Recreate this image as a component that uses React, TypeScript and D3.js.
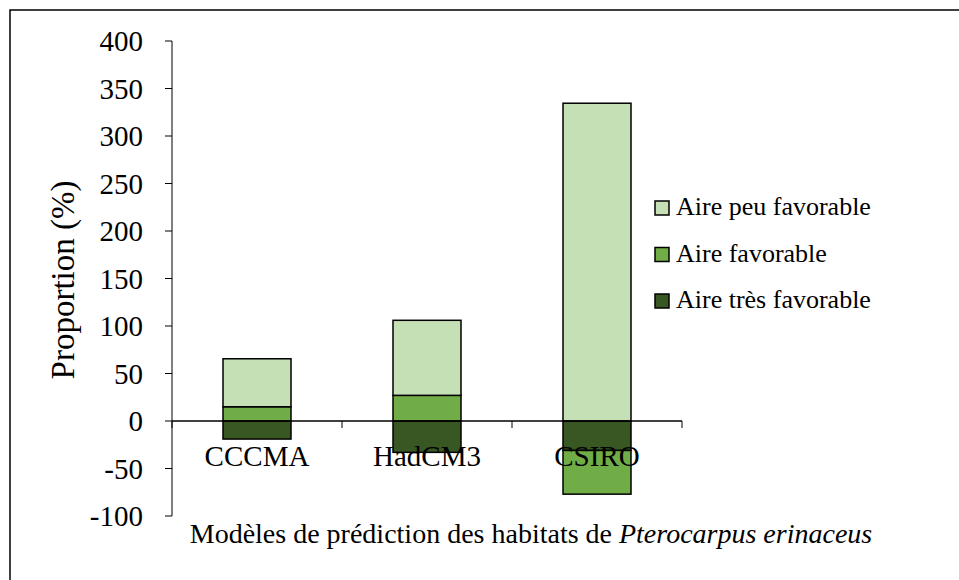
import React from "react";
import * as d3 from "d3";

const categories = ["CCCMA", "HadCM3", "CSIRO"];
const tresFavorable = [-19, -33, -31];
const favorable = [15, 27, -46];
const peuFavorable = [50.5, 79, 334.5];
const yTicks = [-100, -50, 0, 50, 100, 150, 200, 250, 300, 350, 400];

const seriesKeys = ["tres", "fav", "peu"];
const seriesLabels: Record<string, string> = {
  peu: "Aire peu favorable",
  fav: "Aire favorable",
  tres: "Aire très favorable",
};
const seriesColors: Record<string, string> = {
  peu: "#C5E0B4",
  fav: "#70AD47",
  tres: "#385723",
};
const legendOrder = ["peu", "fav", "tres"];

const FONT = "'Liberation Serif', 'DejaVu Serif', serif";

export default function App() {
  const W = 959;
  const H = 580;
  const x0 = 172;
  const x1 = 682;
  const yTop = 41;
  const yBot = 516;

  const rows = categories.map((c, i) => ({
    cat: c,
    tres: tresFavorable[i],
    fav: favorable[i],
    peu: peuFavorable[i],
  }));

  const x = d3
    .scaleBand<string>()
    .domain(categories)
    .range([x0, x1])
    .paddingInner(0.6)
    .paddingOuter(0.3);
  const y = d3.scaleLinear().domain([-100, 400]).range([yBot, yTop]);

  const stack = d3
    .stack<any>()
    .keys(seriesKeys)
    .offset(d3.stackOffsetDiverging);
  const stacked = stack(rows);

  const step = x.step();
  const catBoundaries = [0, 1, 2, 3].map((i) => x0 + i * step);

  return (
    <div style={{ position: "fixed", left: 0, top: 0 }}>
      <svg width={W} height={H} style={{ display: "block", background: "#fff" }}>
        <rect x={10} y={10} width={1000} height={1000} fill="#fff" stroke="#000" strokeWidth={1.5} />
        {/* bars */}
        {stacked.map((s) => (
          <g key={s.key}>
            {s.map((d, i) => {
              const ya = y(d[0]);
              const yb = y(d[1]);
              return (
                <rect
                  key={i}
                  x={x(categories[i])}
                  y={Math.min(ya, yb)}
                  width={x.bandwidth()}
                  height={Math.abs(ya - yb)}
                  fill={seriesColors[s.key]}
                  stroke="#000"
                  strokeWidth={1.5}
                />
              );
            })}
          </g>
        ))}
        {/* y axis */}
        <line x1={x0} x2={x0} y1={y(400)} y2={y(-100)} stroke="#000" strokeWidth={1} />
        {yTicks.map((t) => (
          <g key={t}>
            <line x1={x0 - 7} x2={x0} y1={y(t)} y2={y(t)} stroke="#000" strokeWidth={1} />
            <text
              x={143}
              y={y(t) + 10}
              textAnchor="end"
              fontFamily={FONT}
              fontSize={29}
              fill="#000"
            >
              {t}
            </text>
          </g>
        ))}
        {/* zero line and category ticks */}
        <line x1={x0} x2={x1} y1={y(0)} y2={y(0)} stroke="#000" strokeWidth={1.5} />
        {catBoundaries.map((bx, i) => (
          <line key={i} x1={bx} x2={bx} y1={y(0)} y2={y(0) + 7} stroke="#000" strokeWidth={1} />
        ))}
        {categories.map((c) => (
          <text
            key={c}
            x={(x(c) as number) + x.bandwidth() / 2}
            y={466}
            textAnchor="middle"
            fontFamily={FONT}
            fontSize={29}
            fill="#000"
          >
            {c}
          </text>
        ))}
        {/* axis titles */}
        <text
          transform="translate(74,280) rotate(-90)"
          textAnchor="middle"
          fontFamily={FONT}
          fontSize={33}
          fill="#000"
        >
          Proportion (%)
        </text>
        <text x={531} y={543} textAnchor="middle" fontFamily={FONT} fontSize={28} fill="#000">
          Modèles de prédiction des habitats de{" "}
          <tspan fontStyle="italic">Pterocarpus erinaceus</tspan>
        </text>
        {/* legend */}
        {legendOrder.map((k, i) => {
          const cy = 208 + i * 46.5;
          return (
            <g key={k}>
              <rect x={655} y={cy - 7} width={14} height={14} fill={seriesColors[k]} stroke="#000" strokeWidth={1.5} />
              <text x={676} y={cy + 7} fontFamily={FONT} fontSize={26} fill="#000">
                {seriesLabels[k]}
              </text>
            </g>
          );
        })}
      </svg>
    </div>
  );
}
